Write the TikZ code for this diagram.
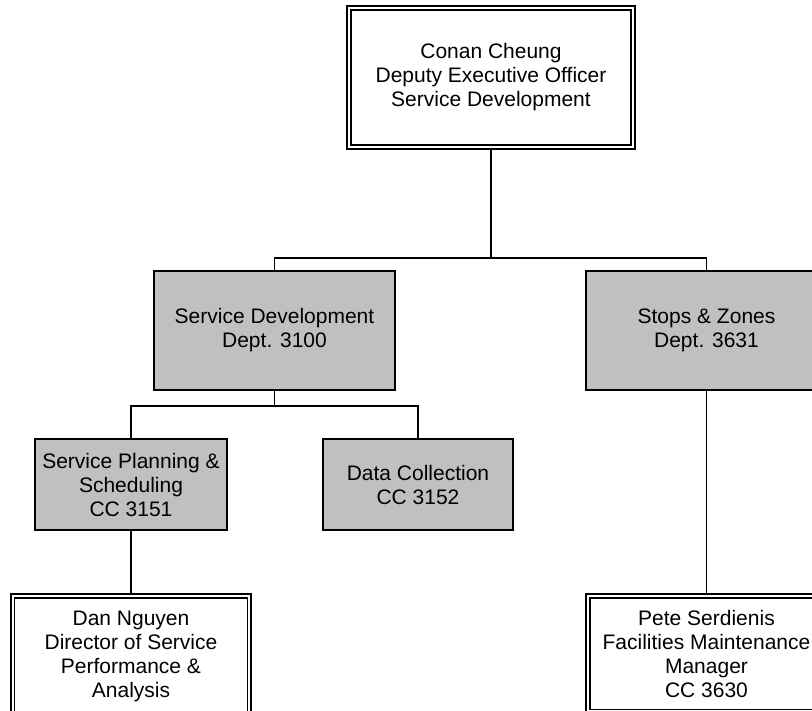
\documentclass[tikz,border=0pt]{standalone}
\usepackage{fontspec}
\setmainfont{Liberation Sans}
\definecolor{boxgray}{HTML}{C0C0C0}
\begin{document}
\begin{tikzpicture}[x=1pt,y=-1pt,
  txt/.style={font=\fontsize{21}{24}\selectfont, align=center, inner sep=0pt},
  graybox/.style={txt, rectangle, draw=black, fill=boxgray, line width=1.5pt},
  outerbox/.style={txt, rectangle, draw=black, fill=white, line width=2pt},
  innerline/.style={draw=black, line width=1.2pt},
  conn/.style={draw=black, line width=1.5pt}]
\useasboundingbox (0,0) rectangle (812,711);
\fill[white] (0,0) rectangle (812,711);
\clip (0,0) rectangle (812,711);

% nodes
\node[outerbox, minimum width=288pt, minimum height=143pt] (top) at (491,77.5)
  {Conan Cheung\\Deputy Executive Officer\\Service Development};
\draw[innerline] ([shift={(5,5)}]top.north west) rectangle ([shift={(-5,-5)}]top.south east);

\node[graybox, minimum width=241pt, minimum height=119pt] (sd) at (274.5,330.5)
  {Service Development\\Dept. 3100};
\node[graybox, minimum width=241pt, minimum height=119pt] (stops) at (706.5,330.5)
  {Stops \& Zones\\Dept. 3631};

\node[graybox, minimum width=192pt, minimum height=91pt] (sps) at (131,484.5)
  {Service Planning \&\\Scheduling\\CC 3151};
\node[graybox, minimum width=190pt, minimum height=91pt] (dc) at (418,484.5)
  {Data Collection\\CC 3152};

\node[outerbox, minimum width=240pt, minimum height=124pt] (dan) at (131,656)
  {\raisebox{4pt}{\parbox{240pt}{\centering Dan Nguyen\\Director of Service\\Performance \&\\Analysis}}};
\draw[innerline] ([shift={(4.5,5)}]dan.north west) rectangle ([shift={(-4.5,-5)}]dan.south east);

\node[outerbox, minimum width=241pt, minimum height=119pt] (pete) at (706.5,653.5)
  {Pete Serdienis\\Facilities Maintenance\\Manager\\CC 3630};
\draw[innerline] ([shift={(5,5)}]pete.north west) rectangle ([shift={(-5,-4.5)}]pete.south east);

% connectors
\coordinate (bus1) at (491,258);
\coordinate (bus2) at (274.5,406);
\draw[conn] (top.south) -- (bus1);
\draw[conn] (sd.north) |- (bus1) -| (stops.north);
\draw[conn] (sd.south) -- (bus2);
\draw[conn] (sps.north) |- (bus2) -| (dc.north);
\draw[conn] (sps.south) -- (dan.north);
\draw[conn] (stops.south) -- (pete.north);
\end{tikzpicture}
\end{document}
